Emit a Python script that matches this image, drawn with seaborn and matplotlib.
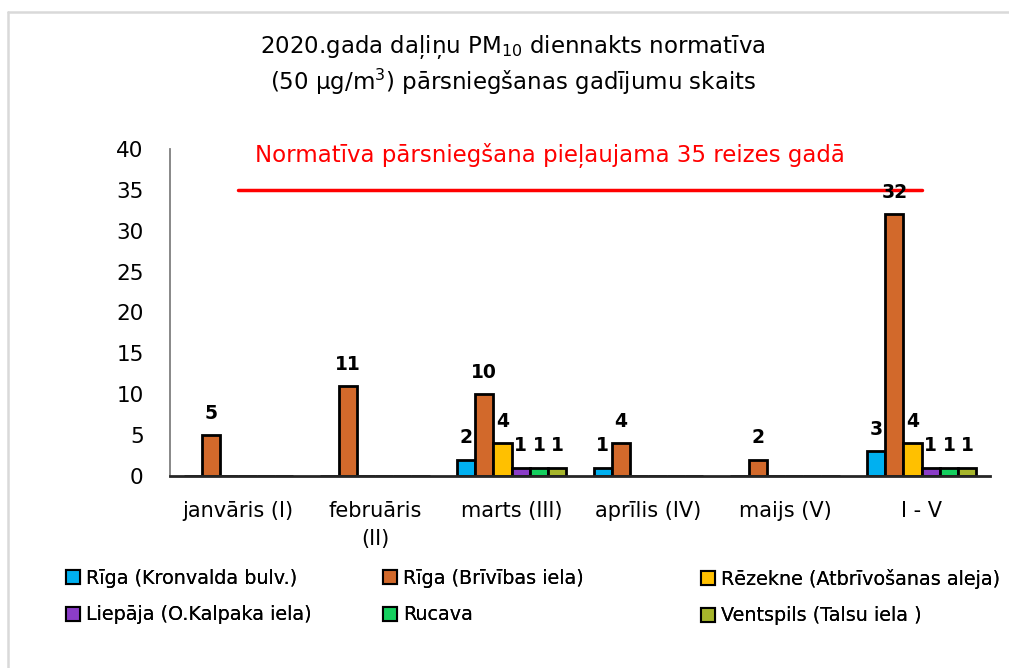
import matplotlib
matplotlib.use("Agg")
import matplotlib.pyplot as plt
from matplotlib.patches import Patch
from matplotlib.lines import Line2D
import seaborn as sns
import pandas as pd

categories = ["janvāris (I)", "februāris\n(II)", "marts (III)", "aprīlis (IV)", "maijs (V)", "I - V"]
series = ["Rīga (Kronvalda bulv.)", "Rīga (Brīvības iela)", "Rēzekne (Atbrīvošanas aleja)",
          "Liepāja (O.Kalpaka iela)", "Rucava", "Ventspils (Talsu iela )"]
riga_kronvalda = [0, 0, 2, 1, 0, 3]
riga_brivibas = [5, 11, 10, 4, 2, 32]
rezekne = [0, 0, 4, 0, 0, 4]
liepaja = [0, 0, 1, 0, 0, 1]
rucava = [0, 0, 1, 0, 0, 1]
ventspils = [0, 0, 1, 0, 0, 1]
colors = ["#00B0F0", "#D2692B", "#FFC000", "#8B3DC8", "#14CF5E", "#A6B52B"]
limit_value = 35
limit_text = "Normatīva pārsniegšana pieļaujama 35 reizes gadā"
title_text = "2020.gada daļiņu PM$_{10}$ diennakts normatīva\n(50 \u03bcg/m$^3$) pārsniegšanas gadījumu skaits"

values = [riga_kronvalda, riga_brivibas, rezekne, liepaja, rucava, ventspils]
rows = []
for s, vals in zip(series, values):
    for c, v in zip(categories, vals):
        rows.append({"cat": c, "series": s, "val": v})
df = pd.DataFrame(rows)

sns.set_theme(style="white")
plt.rcParams["font.family"] = ["DejaVu Sans"]
plt.rcParams["text.color"] = "black"
plt.rcParams["xtick.color"] = "black"
plt.rcParams["ytick.color"] = "black"

fig = plt.figure(figsize=(10.09, 6.68), dpi=100)
ax = fig.add_axes([170 / 1009, 1 - 476 / 668, (990 - 170) / 1009, (476 - 149) / 668])

sns.barplot(data=df, x="cat", y="val", hue="series", hue_order=series, order=categories,
            palette=colors, width=0.8, edgecolor="black", linewidth=2.0, ax=ax,
            legend=False, errorbar=None, saturation=1)

for cont, vals in zip(ax.containers, values):
    ax.bar_label(cont, labels=[str(v) if v > 0 else "" for v in vals], padding=9,
                 fontsize=13.5, fontweight="bold", color="black")

ax.set_ylim(0, 40)
ax.set_xlim(-0.5, 5.5)
ax.set_yticks(range(0, 41, 5))
ax.tick_params(axis="y", labelsize=15.5, pad=19, length=0, labelcolor="black")
ax.tick_params(axis="x", labelsize=15, pad=18, length=0, labelcolor="black")
ax.set_xlabel("")
ax.set_ylabel("")
for lab in ax.get_xticklabels():
    lab.set_linespacing(1.5)
    lab.set_verticalalignment("top")

for sp in ["top", "right"]:
    ax.spines[sp].set_visible(False)
ax.spines["left"].set_color("#7F7F7F")
ax.spines["left"].set_linewidth(1.3)
ax.spines["bottom"].set_color("#262626")
ax.spines["bottom"].set_linewidth(2)

ax.plot([0, 5], [limit_value, limit_value], color="#FF0000", lw=2.5, zorder=1)
ax.text(2.28, 39.2, limit_text, color="#FF0000", fontsize=16.5, ha="center", va="center")

fig.text(513 / 1009, 1 - 65 / 668, title_text, ha="center", va="center", fontsize=16.5,
         linespacing=1.25, color="black")

# legend in three columns
col_x = [66 / 1009, 383 / 1009, 701 / 1009]
for ci in range(3):
    idx = [ci, ci + 3]
    handles = [Patch(facecolor=colors[i], edgecolor="black", linewidth=1.5) for i in idx]
    labels = [series[i] for i in idx]
    leg = fig.legend(handles, labels, loc="upper left", bbox_to_anchor=(col_x[ci], 1 - 569 / 668),
                     frameon=False, fontsize=13.8, handlelength=0.75, handleheight=0.75,
                     handletextpad=0.3, labelspacing=0.9, borderpad=0, borderaxespad=0)
    for t in leg.get_texts():
        t.set_color("black")
    fig.add_artist(leg)

# light frame like the original chart area
fig.add_artist(Line2D([8 / 1009, 1.0], [1 - 12 / 668, 1 - 12 / 668], color="#D9D9D9", lw=1.8,
                      transform=fig.transFigure))
fig.add_artist(Line2D([8 / 1009, 8 / 1009], [0, 1 - 12 / 668], color="#D9D9D9", lw=1.8,
                      transform=fig.transFigure))

fig.savefig("out.png", dpi=100)
